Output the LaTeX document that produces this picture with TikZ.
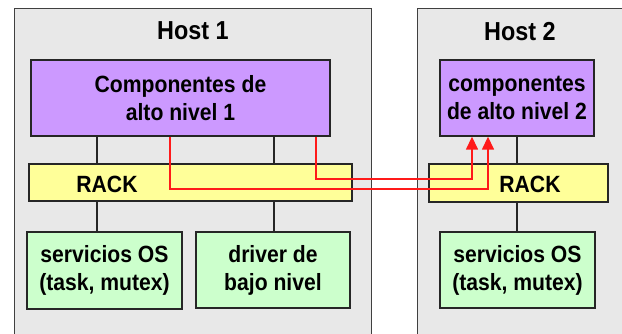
\documentclass[tikz,border=0pt]{standalone}
\usepackage{fontspec}
\setmainfont{Liberation Sans}[FakeStretch=0.9]
\usetikzlibrary{arrows.meta}
\definecolor{hostfill}{HTML}{E8E8E8}
\definecolor{hostedge}{HTML}{404040}
\definecolor{hilevel}{HTML}{CC99FF}
\definecolor{rackfill}{HTML}{FFFF99}
\definecolor{lowlevel}{HTML}{CCFFCC}
\definecolor{msgred}{HTML}{FF1A1A}
\tikzset{
  hostbox/.style={draw=hostedge, line width=1.3pt, fill=hostfill, rectangle, inner sep=0pt},
  block/.style={draw=black!85, line width=1.4pt, rectangle, inner sep=0pt, align=center,
    font=\fontsize{23.5}{28}\selectfont\bfseries},
  hibox/.style={block, fill=hilevel},
  rackbox/.style={block, fill=rackfill},
  lobox/.style={block, fill=lowlevel},
  title/.style={inner sep=0pt, font=\fontsize{26}{30}\selectfont\bfseries},
  racklabel/.style={inner sep=0pt, font=\fontsize{23.5}{28}\selectfont\bfseries},
  link/.style={draw=black!85, line width=1.3pt},
  msg/.style={draw=msgred, line width=1.5pt, -{Triangle[length=13pt,width=12pt]}, color=msgred}
}
\begin{document}
\begin{tikzpicture}[x=1pt,y=-1pt]
\useasboundingbox (0,0) rectangle (622,334);
\clip (0,0) rectangle (622,334);

% host frames (they run past the lower and right edges)
\node[hostbox, minimum width=357pt, minimum height=340pt, anchor=north west] (h1) at (14,8) {};
\node[hostbox, minimum width=230pt, minimum height=340pt, anchor=north west] (h2) at (417,8) {};
\node[title] (t1) at (193,31) {Host 1};
\node[title] (t2) at (520,32) {Host 2};

% host 1 blocks
\node[hibox, minimum width=299pt, minimum height=76pt] (p1) at (180.5,98) {Componentes de\\alto nivel 1};
\node[rackbox, minimum width=323pt, minimum height=37pt] (r1) at (190.5,182.5) {};
\node[racklabel] (rl1) at (107,184) {RACK};
\node[lobox, minimum width=155pt, minimum height=77pt] (g1) at (104.5,270.5) {servicios OS\\(task, mutex)};
\node[lobox, minimum width=154pt, minimum height=76pt] (g2) at (273,270) {driver de\\bajo nivel};

% host 2 blocks
\node[hibox, minimum width=154pt, minimum height=76pt] (p2) at (517,98) {componentes\\de alto nivel 2};
\node[rackbox, minimum width=179pt, minimum height=38pt] (r2) at (518.5,183) {};
\node[racklabel] (rl2) at (530,184) {RACK};
\node[lobox, minimum width=155pt, minimum height=76pt] (g3) at (517.5,270) {servicios OS\\(task, mutex)};

% vertical attachment points
\coordinate (xa) at (97,0);
\coordinate (xb) at (274,0);
\coordinate (xc) at (517,0);

\draw[link] (p1.south -| xa) -- (r1.north -| xa);
\draw[link] (p1.south -| xb) -- (r1.north -| xb);
\draw[link] (r1.south -| xa) -- (g1.north -| xa);
\draw[link] (r1.south -| xb) -- (g2.north -| xb);
\draw[link] (p2.south -| xc) -- (r2.north -| xc);
\draw[link] (r2.south -| xc) -- (g3.north -| xc);

% messages from host 1 to host 2 through RACK
\coordinate (m1a) at (316,179);
\coordinate (m1b) at (472,179);
\coordinate (m2a) at (170,189);
\coordinate (m2b) at (488,189);
\draw[msg] (p1.south -| m1a) -- (m1a) -- (m1b) -- (p2.south -| m1b);
\draw[msg] (p1.south -| m2a) -- (m2a) -- (m2b) -- (p2.south -| m2b);
\end{tikzpicture}
\end{document}
